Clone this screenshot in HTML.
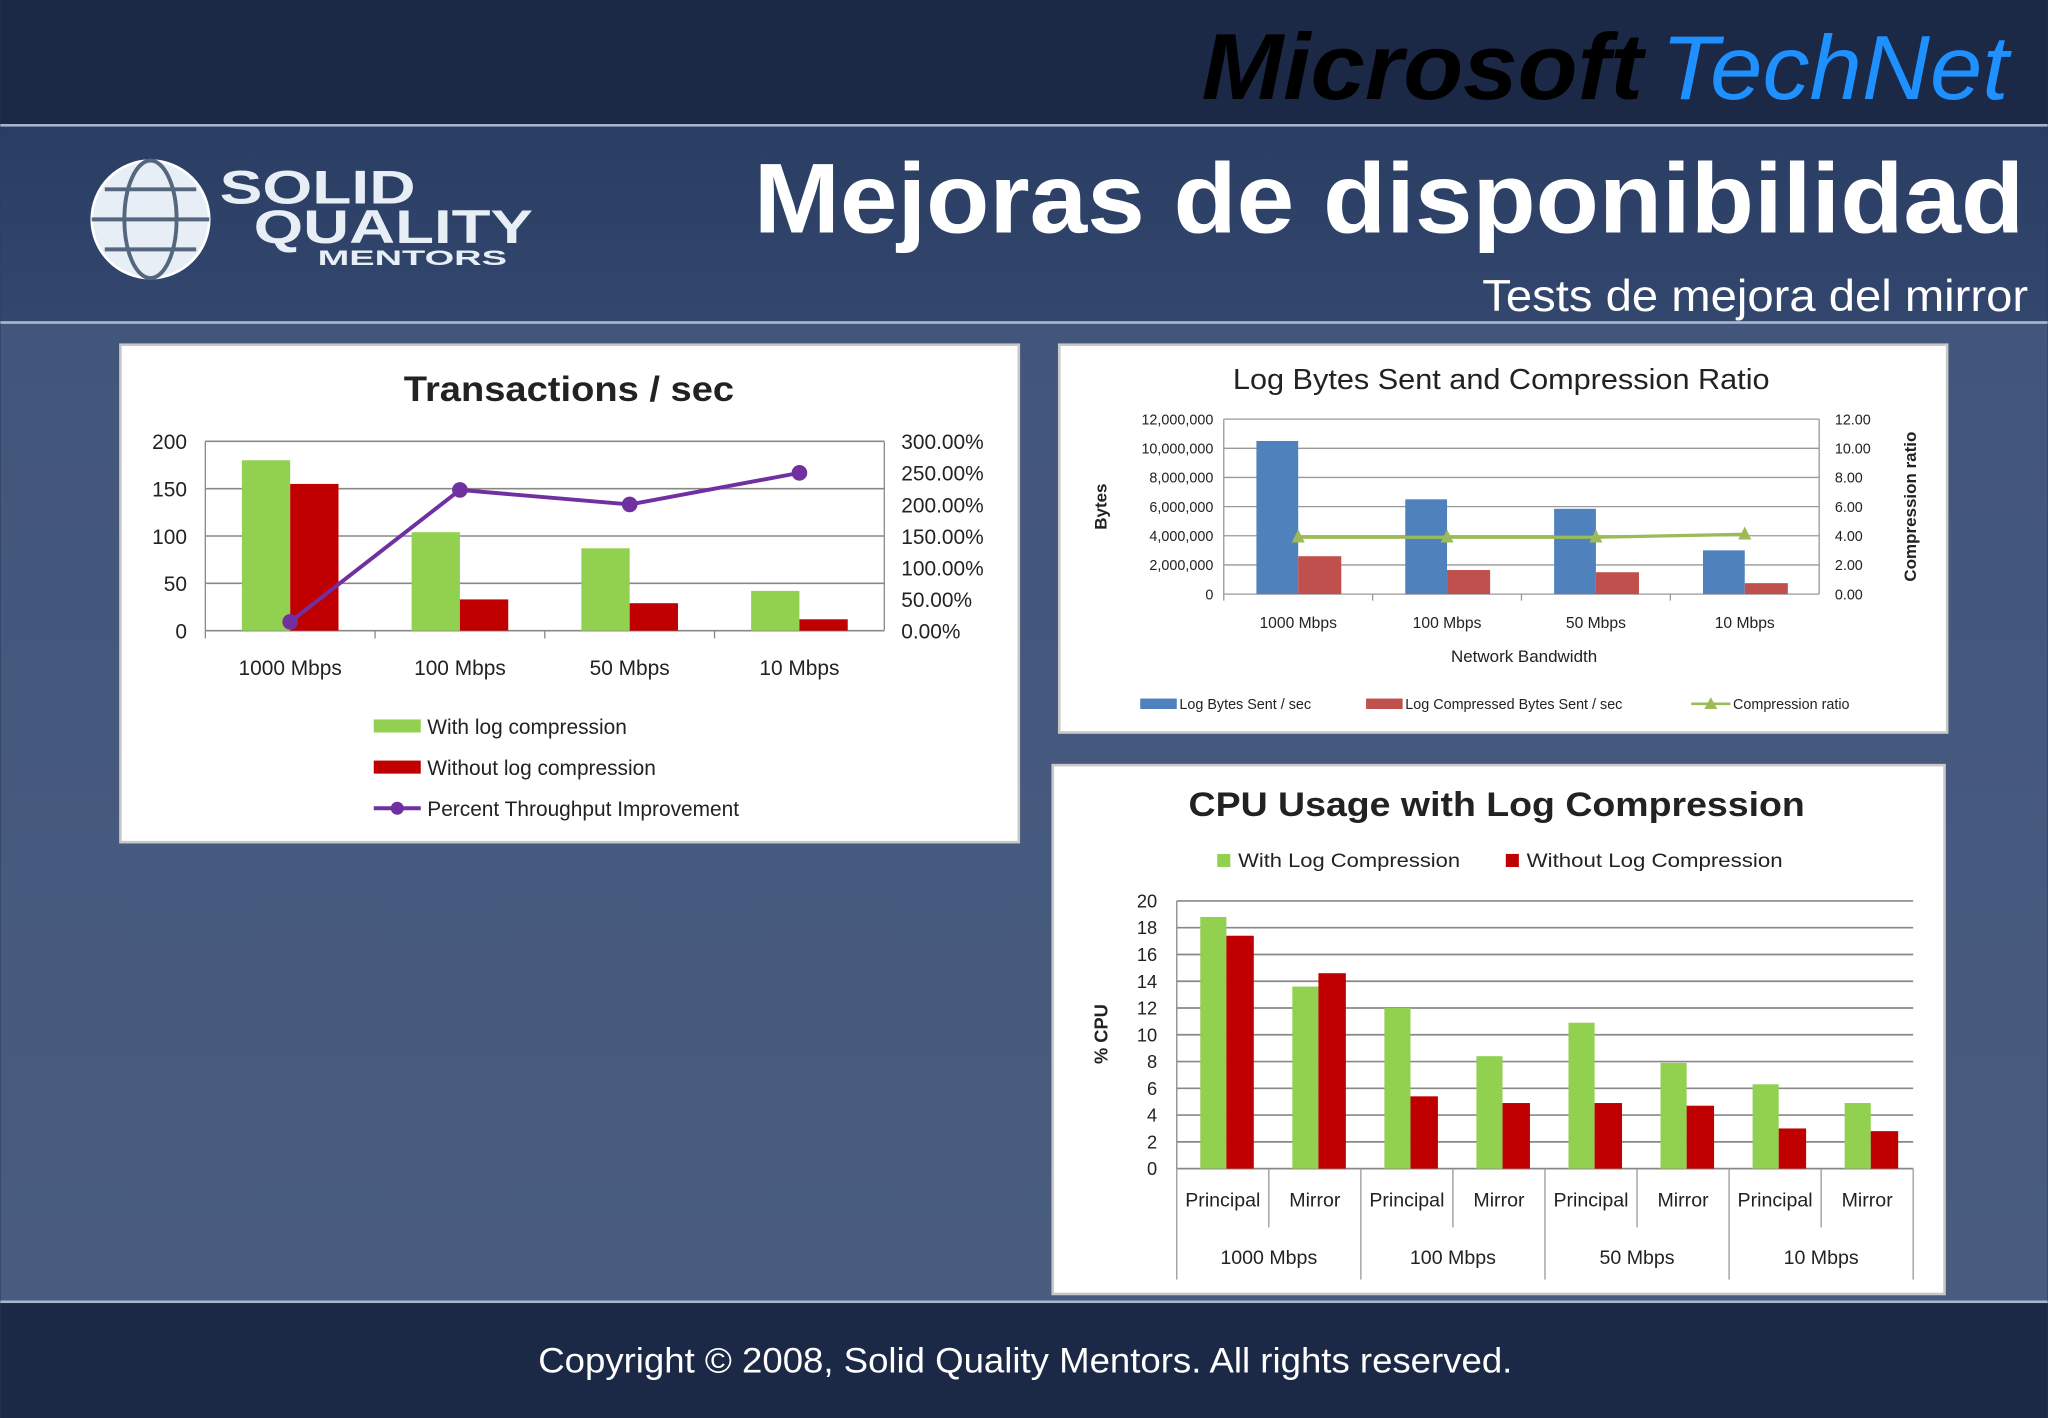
<!DOCTYPE html>
<html><head><meta charset="utf-8"><style>
html,body{margin:0;padding:0;background:#1c2a48;}
svg{display:block;font-family:"Liberation Sans",sans-serif;}
</style></head><body>
<svg id="s" width="2048" height="1418" viewBox="0 0 1568 1086" xmlns="http://www.w3.org/2000/svg">
<defs>
<linearGradient id="bg" x1="0" y1="0" x2="0" y2="1"><stop offset="0" stop-color="#40537a"/><stop offset="1" stop-color="#4a5d80"/></linearGradient>
<linearGradient id="hd" x1="0" y1="0" x2="0" y2="1"><stop offset="0" stop-color="#2a3d63"/><stop offset="1" stop-color="#33476e"/></linearGradient>
</defs>
<rect x="0" y="0" width="1568" height="1086" fill="url(#bg)"/>
<rect x="0" y="0" width="1568" height="95" fill="#1b2846"/>
<rect x="0" y="95" width="1568" height="2" fill="#aab8cc"/>
<rect x="0" y="97" width="1568" height="149" fill="url(#hd)"/>
<rect x="0" y="246" width="1568" height="2" fill="#aab8cc"/>
<rect x="0" y="996" width="1568" height="2" fill="#aab8cc"/>
<rect x="0" y="998" width="1568" height="88" fill="#1b2846"/>
<text x="920" y="76" textLength="338" lengthAdjust="spacingAndGlyphs" font-size="72" font-weight="bold" font-style="italic" fill="#000">Microsoft</text>
<text x="1272" y="76" textLength="266" lengthAdjust="spacingAndGlyphs" font-size="70" font-style="italic" fill="#1e90ff">TechNet</text>
<g>
<circle cx="115" cy="168" r="45" fill="#e8eef5" stroke="#fff" stroke-width="2"/>
<ellipse cx="115" cy="168" rx="20" ry="45" fill="none" stroke="#55667f" stroke-width="3"/>
<line x1="70" y1="168" x2="160" y2="168" stroke="#55667f" stroke-width="3"/>
<line x1="80" y1="145" x2="150" y2="145" stroke="#55667f" stroke-width="3"/>
<line x1="80" y1="191" x2="150" y2="191" stroke="#55667f" stroke-width="3"/>
<text x="168" y="156" textLength="150" lengthAdjust="spacingAndGlyphs" font-size="36" font-weight="bold" fill="#e8eef5">SOLID</text>
<text x="194" y="186" textLength="214" lengthAdjust="spacingAndGlyphs" font-size="36" font-weight="bold" fill="#e8eef5">QUALITY</text>
<text x="243" y="203" textLength="145" lengthAdjust="spacingAndGlyphs" font-size="16" font-weight="bold" fill="#e8eef5">MENTORS</text>
</g>
<text x="577" y="178" textLength="973" lengthAdjust="spacingAndGlyphs" font-size="76" font-weight="bold" fill="#fff">Mejoras de disponibilidad</text>
<text x="1135" y="238" textLength="418" lengthAdjust="spacingAndGlyphs" font-size="34" fill="#fff">Tests de mejora del mirror</text>
<text x="412" y="1051" textLength="746" lengthAdjust="spacingAndGlyphs" font-size="27" fill="#fff">Copyright © 2008, Solid Quality Mentors. All rights reserved.</text>
<g id="c1"></g>
<g id="c2"></g>
<g id="c3"></g>
</svg>
<script>
// Chart 1 data
const c1Cats=["1000 Mbps","100 Mbps","50 Mbps","10 Mbps"];
const c1With=[180,104,87,42];
const c1Without=[155,33,29,12];
const c1Pct=[14,223,200,250];
const c1LeftTicks=[0,50,100,150,200];
const c1RightTicks=[0,50,100,150,200,250,300];
// Chart 2 data
const c2Cats=["1000 Mbps","100 Mbps","50 Mbps","10 Mbps"];
const c2Sent=[10500000,6500000,5850000,3000000];
const c2Comp=[2600000,1650000,1500000,750000];
const c2Ratio=[3.9,3.9,3.9,4.1];
const c2LeftTicks=[0,2000000,4000000,6000000,8000000,10000000,12000000];
const c2RightTicks=[0,2,4,6,8,10,12];
// Chart 3 data
const c3Groups=["1000 Mbps","100 Mbps","50 Mbps","10 Mbps"];
const c3Roles=["Principal","Mirror"];
const c3With=[18.8,13.6,12,8.4,10.9,7.9,6.3,4.9];
const c3Without=[17.4,14.6,5.4,4.9,4.9,4.7,3,2.8];
const c3Ticks=[0,2,4,6,8,10,12,14,16,18,20];

const NS="http://www.w3.org/2000/svg";
function mk(p,tag,a,txt){const e=document.createElementNS(NS,tag);for(const k in a)e.setAttribute(k,a[k]);if(txt!==undefined)e.textContent=txt;p.appendChild(e);return e;}

// ---------- Chart 1 ----------
(function(){
const g=document.getElementById('c1');
let e=mk(g,'rect',{x:92,y:264,width:688,height:381,fill:'#fff',stroke:'#c8c8c8','stroke-width':2});

e=mk(g,'text',{x:309,y:307,textLength:253,lengthAdjust:'spacingAndGlyphs','font-size':27,'font-weight':'bold',fill:'#222'},'Transactions / sec');

const L=157,R=677,T=338,B=483,cw=(R-L)/c1Cats.length;
const y=v=>B-(v/200)*(B-T), y2=v=>B-(v/300)*(B-T);
c1LeftTicks.forEach(v=>{mk(g,'line',{x1:L,x2:R,y1:y(v),y2:y(v),stroke:'#888','stroke-width':1.2});
 e=mk(g,'text',{x:143,y:y(v)+6,'text-anchor':'end','font-size':16,fill:'#222'},v);
 });
c1RightTicks.forEach(v=>{e=mk(g,'text',{x:690,y:y2(v)+6,'font-size':16,fill:'#222'},v.toFixed(2)+'%');
 });
mk(g,'line',{x1:L,x2:L,y1:T,y2:B,stroke:'#888'});mk(g,'line',{x1:R,x2:R,y1:T,y2:B,stroke:'#888'});
c1Cats.forEach((c,i)=>{const cx=L+cw*(i+0.5);
 e=mk(g,'rect',{x:cx-37,y:y(c1With[i]),width:37,height:B-y(c1With[i]),fill:'#92d050'});
 
 e=mk(g,'rect',{x:cx,y:y(c1Without[i]),width:37,height:B-y(c1Without[i]),fill:'#c00000'});
 
 e=mk(g,'text',{x:cx,y:517,'text-anchor':'middle','font-size':16,fill:'#222'},c);
 
 mk(g,'line',{x1:L+cw*i,x2:L+cw*i,y1:B,y2:B+6,stroke:'#888'});});
const pts=c1Cats.map((c,i)=>[L+cw*(i+0.5),y2(c1Pct[i])]);
e=mk(g,'polyline',{points:pts.map(p=>p.join(',')).join(' '),fill:'none',stroke:'#7030a0','stroke-width':3});

pts.forEach(p=>{e=mk(g,'circle',{cx:p[0],cy:p[1],r:6,fill:'#7030a0'});
 });
const lg=[['#92d050','With log compression'],['#c00000','Without log compression'],['#7030a0','Percent Throughput Improvement']];
lg.forEach((l,i)=>{const ly=556+i*31.5;
 if(i<2)mk(g,'rect',{x:286,y:ly-5,width:36,height:10,fill:l[0]});
 else{mk(g,'line',{x1:286,x2:322,y1:ly,y2:ly,stroke:l[0],'stroke-width':3});mk(g,'circle',{cx:304,cy:ly,r:5,fill:l[0]});}
 e=mk(g,'text',{x:327,y:ly+6,'font-size':16,fill:'#222'},l[1]);
 });
})();

// ---------- Chart 2 ----------
(function(){
const g=document.getElementById('c2');
let e=mk(g,'rect',{x:811,y:264,width:680,height:297,fill:'#fff',stroke:'#c8c8c8','stroke-width':2});

e=mk(g,'text',{x:944,y:298,textLength:411,lengthAdjust:'spacingAndGlyphs','font-size':22,fill:'#222'},'Log Bytes Sent and Compression Ratio');

const L=937,R=1393,T=321,B=455,cw=(R-L)/c2Cats.length;
const y=v=>B-(v/12000000)*(B-T), y2=v=>B-(v/12)*(B-T);
c2LeftTicks.forEach(v=>{mk(g,'line',{x1:L,x2:R,y1:y(v),y2:y(v),stroke:'#999','stroke-width':1});
 e=mk(g,'text',{x:929,y:y(v)+4,'text-anchor':'end','font-size':11,fill:'#222'},v.toLocaleString('en-US'));
 });
c2RightTicks.forEach(v=>{e=mk(g,'text',{x:1405,y:y2(v)+4,'font-size':11,fill:'#222'},v.toFixed(2));
 });
mk(g,'line',{x1:L,x2:L,y1:T,y2:B,stroke:'#999'});mk(g,'line',{x1:R,x2:R,y1:T,y2:B,stroke:'#999'});
c2Cats.forEach((c,i)=>{const cx=L+cw*(i+0.5);
 e=mk(g,'rect',{x:cx-32,y:y(c2Sent[i]),width:32,height:B-y(c2Sent[i]),fill:'#4f81bd'});
 
 e=mk(g,'rect',{x:cx,y:y(c2Comp[i]),width:33,height:B-y(c2Comp[i]),fill:'#c0504d'});
 
 e=mk(g,'text',{x:cx,y:481,'text-anchor':'middle','font-size':12,fill:'#222'},c);
 
 mk(g,'line',{x1:L+cw*i,x2:L+cw*i,y1:B,y2:B+5,stroke:'#999'});});
const pts=c2Cats.map((c,i)=>[L+cw*(i+0.5),y2(c2Ratio[i])]);
e=mk(g,'polyline',{points:pts.map(p=>p.join(',')).join(' '),fill:'none',stroke:'#9bbb59','stroke-width':2.5});

pts.forEach(p=>{e=mk(g,'polygon',{points:`${p[0]},${p[1]-6} ${p[0]-5},${p[1]+4} ${p[0]+5},${p[1]+4}`,fill:'#9bbb59'});
 });
e=mk(g,'text',{x:1167,y:507,'text-anchor':'middle','font-size':13,fill:'#222'},'Network Bandwidth');

e=mk(g,'text',{x:0,y:0,transform:'translate(847,388) rotate(-90)','text-anchor':'middle','font-size':13,'font-weight':'bold',fill:'#222'},'Bytes');

e=mk(g,'text',{x:0,y:0,transform:'translate(1467,388) rotate(-90)','text-anchor':'middle','font-size':13,'font-weight':'bold',fill:'#222'},'Compression ratio');

const lg=[[873,'#4f81bd','Log Bytes Sent / sec',0],[1046,'#c0504d','Log Compressed Bytes Sent / sec',0],[1295,'#9bbb59','Compression ratio',1]];
lg.forEach(l=>{const ly=539;
 if(!l[3])mk(g,'rect',{x:l[0],y:ly-4,width:28,height:8,fill:l[1]});
 else{mk(g,'line',{x1:l[0],x2:l[0]+30,y1:ly,y2:ly,stroke:l[1],'stroke-width':2});mk(g,'polygon',{points:`${l[0]+15},${ly-5} ${l[0]+10},${ly+4} ${l[0]+20},${ly+4}`,fill:l[1]});}
 e=mk(g,'text',{x:l[0]+(l[3]?32:30),y:ly+4,'font-size':11,fill:'#222'},l[2]);
 });
})();

// ---------- Chart 3 ----------
(function(){
const g=document.getElementById('c3');
let e=mk(g,'rect',{x:806,y:586,width:683,height:405,fill:'#fff',stroke:'#c8c8c8','stroke-width':2});

e=mk(g,'text',{x:910,y:625,textLength:472,lengthAdjust:'spacingAndGlyphs','font-size':26,'font-weight':'bold',fill:'#222'},'CPU Usage with Log Compression');

[[932,'#92d050','With Log Compression',170],[1153,'#c00000','Without Log Compression',196]].forEach(l=>{
 mk(g,'rect',{x:l[0],y:654,width:10,height:10,fill:l[1]});
 e=mk(g,'text',{x:l[0]+16,y:664,textLength:l[3],lengthAdjust:'spacingAndGlyphs','font-size':15,fill:'#222'},l[2]);
 });
const L=901,R=1465,T=690,B=895,n=c3With.length,cw=(R-L)/n;
const y=v=>B-(v/20)*(B-T);
c3Ticks.forEach(v=>{mk(g,'line',{x1:L,x2:R,y1:y(v),y2:y(v),stroke:'#888','stroke-width':1.3});
 e=mk(g,'text',{x:886,y:y(v)+5,'text-anchor':'end','font-size':14,fill:'#222'},v);
 });
mk(g,'line',{x1:L,x2:L,y1:T,y2:B,stroke:'#888'});
for(let i=0;i<n;i++){const x0=L+cw*i;
 e=mk(g,'rect',{x:x0+18,y:y(c3With[i]),width:20,height:B-y(c3With[i]),fill:'#92d050'});
 
 e=mk(g,'rect',{x:x0+38,y:y(c3Without[i]),width:21,height:B-y(c3Without[i]),fill:'#c00000'});
 
 e=mk(g,'text',{x:x0+cw/2,y:924,'text-anchor':'middle','font-size':15,fill:'#222'},c3Roles[i%2]);
 
 mk(g,'line',{x1:x0,x2:x0,y1:B,y2:(i%2?940:980),stroke:'#999'});}
mk(g,'line',{x1:R,x2:R,y1:B,y2:980,stroke:'#999'});
c3Groups.forEach((c,i)=>{e=mk(g,'text',{x:L+cw*(2*i+1),y:968,'text-anchor':'middle','font-size':15,fill:'#222'},c);
 });
e=mk(g,'text',{x:0,y:0,transform:'translate(848,792) rotate(-90)','text-anchor':'middle','font-size':14,'font-weight':'bold',fill:'#222'},'% CPU');

})();
</script>
</body></html>
